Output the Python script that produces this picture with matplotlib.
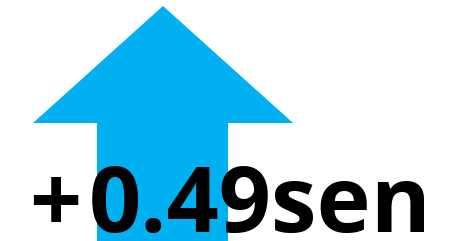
import matplotlib; matplotlib.use("Agg")
import matplotlib.pyplot as plt
from matplotlib.patches import Polygon

W, H = 457, 241
sign = "+"
change = 0.49
unit = "sen"
ARROW_COLOR = "#00B0F0"

# arrow shape (pixel space, y downwards)
tip = (163, 6)
head_y, head_l, head_r = 123, 33, 293
shaft_l, shaft_r = 97, 228

fig = plt.figure(figsize=(W / 100, H / 100), dpi=100)
ax = fig.add_axes([0, 0, 1, 1])
ax.set_xlim(0, W); ax.set_ylim(H, 0)
ax.axis("off")

pts = [tip, (head_r, head_y), (shaft_r, head_y), (shaft_r, H + 5),
       (shaft_l, H + 5), (shaft_l, head_y), (head_l, head_y)]
ax.add_patch(Polygon(pts, closed=True, fc=ARROW_COLOR, ec="none"))

txt = dict(fontsize=66, fontweight="bold", family="Open Sans",
           va="baseline", color="black")
ax.text(29, 232, sign, ha="left", **txt)
ax.text(89, 232, f"{change:.2f}{unit}", ha="left", **txt)

fig.savefig("out.png", dpi=100)
